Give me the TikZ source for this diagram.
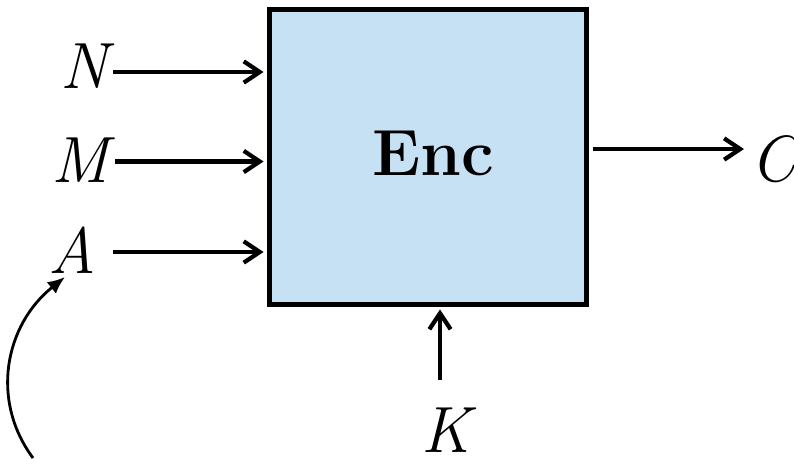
\documentclass[tikz,border=0pt]{standalone}
\usepackage{fontspec}
\usetikzlibrary{arrows.meta}
\definecolor{encfill}{HTML}{C5E1F3}
\begin{document}
\begin{tikzpicture}[x=0.75pt,y=-0.75pt,
  lbl/.style={inner sep=0pt, font=\fontsize{49}{50}\selectfont\itshape},
  encbox/.style={draw=black, line width=3.75pt, fill=encfill, minimum width=238.1pt, minimum height=220.9pt, inner sep=0pt},
  harrow/.style={line width=3.2pt, -{Straight Barb[length=12pt,width=16pt,line width=3.2pt]}},
  carrow/.style={line width=2.1pt, -{Latex[length=13pt,width=11pt]}}]
\useasboundingbox (0,0) rectangle (794,458);
\node[encbox] (enc) at (427.75,156.75) {};
\node[inner sep=0pt, font=\fontsize{49}{50}\selectfont\bfseries] (enctext) at (433.5,153) {Enc};
\node[lbl] (N) at (84,66) {N};
\node[lbl] (M) at (80,160) {M};
\node[lbl] (A) at (72,250) {A};
\node[lbl] (C) at (773,159) {C};
\node[lbl] (K) at (446,430) {K};
\coordinate (na) at (113,72);
\coordinate (ma) at (115,161.5);
\coordinate (aa) at (113,252);
\coordinate (ca) at (593,149);
\coordinate (cb) at (744,149);
\coordinate (ka) at (440,380);
\coordinate (cstart) at (33,458);
\coordinate (atip) at (65,277);
\draw[harrow, shorten >=2.2pt] (na) -- (enc.west |- na);
\draw[harrow, shorten >=2.2pt] (ma) -- (enc.west |- ma);
\draw[harrow, shorten >=2.2pt] (aa) -- (enc.west |- aa);
\draw[harrow] (ca) -- (cb);
\draw[harrow, shorten >=2.2pt] (ka) -- (ka |- enc.south);
\draw[carrow] (cstart) .. controls (-10,400) and (5,325) .. (atip);
\end{tikzpicture}
\end{document}
